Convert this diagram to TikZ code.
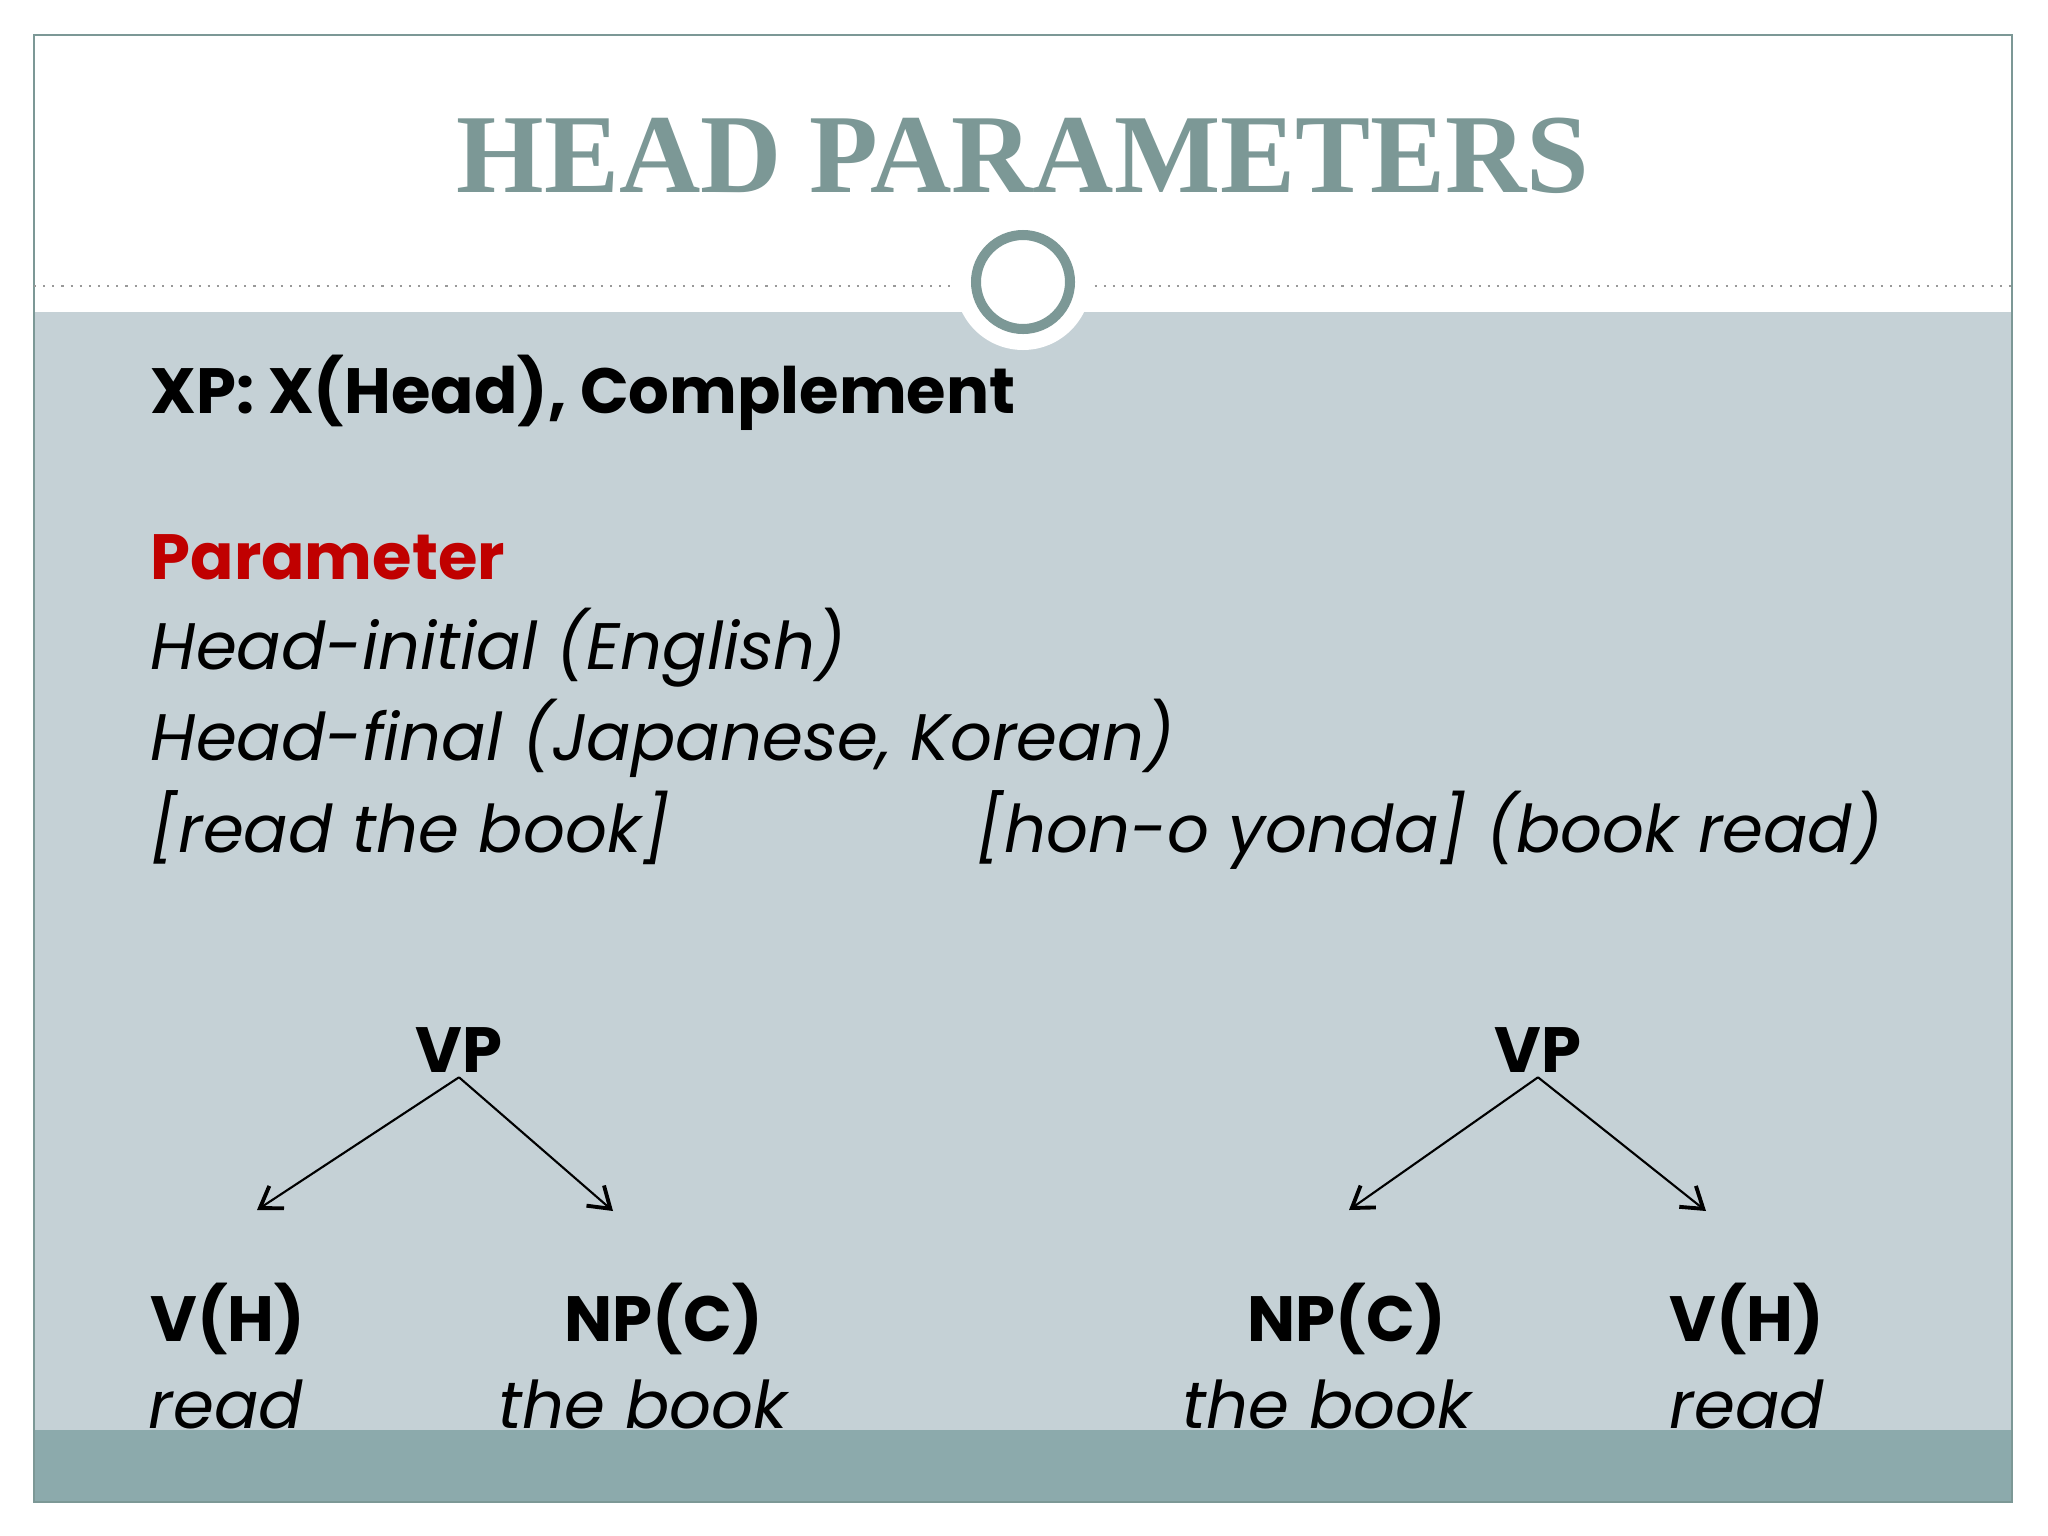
\documentclass[tikz,border=0pt]{standalone}
\usepackage{fontspec}
\setmainfont{Poppins}
\newfontfamily\titlefont{Liberation Serif}
\usetikzlibrary{arrows.meta}
\definecolor{slidegray}{RGB}{197,209,214}
\definecolor{slideteal}{RGB}{124,152,150}
\definecolor{barteal}{RGB}{140,170,172}
\definecolor{paramred}{RGB}{192,0,0}
\begin{document}
\begin{tikzpicture}[x=0.01cm,y=-0.01cm]
\tikzstyle{txt}=[anchor=base west,inner sep=0pt,font=\fontsize{19}{23}\selectfont]
\tikzstyle{boldtxt}=[txt,font=\fontsize{18.2}{22}\selectfont\bfseries]
\tikzstyle{itxt}=[txt,font=\fontsize{18.7}{23}\selectfont\itshape]
\tikzstyle{vp}=[anchor=base,inner sep=0pt,outer sep=1.5pt,font=\fontsize{18.2}{22}\selectfont\bfseries]
\tikzstyle{branch}=[line width=0.6pt,-{Straight Barb[length=5.7pt,width=7.6pt,line width=1.1pt]}]
\useasboundingbox (0,0) rectangle (2048,1536);
\fill[white] (0,0) rectangle (2048,1536);
\fill[slidegray] (34,312) rectangle (2012,1430);
\fill[barteal] (34,1430) rectangle (2012,1502);
\draw[slideteal,line width=0.6pt] (34,35) rectangle (2012,1502);
\draw[gray!80,dotted,line width=0.6pt] (34,286) -- (2012,286);
\fill[white] (1023,282) circle (68);
\draw[slideteal,line width=2.85pt] (1023,282) circle (47);
\node[anchor=base,inner sep=0pt,text=slideteal,font=\titlefont\fontsize{32}{36}\selectfont\bfseries] (title) at (1023,192) {HEAD PARAMETERS};
\node[boldtxt] (xp) at (150,413) {XP: X(Head), Complement};
\node[boldtxt,text=paramred] (param) at (150,579) {Parameter};
\node[itxt] (initial) at (150,669) {Head-initial (English)};
\node[itxt] (final) at (150,760) {Head-final (Japanese, Korean)};
\node[itxt] (engex) at (150,852) {[read the book]};
\node[itxt] (jpex) at (976,852) {[hon-o yonda] (book read)};
\node[vp] (vpL) at (459,1072) {VP};
\node[vp] (vpR) at (1538,1072) {VP};
\coordinate (tipLa) at (257,1210);
\coordinate (tipLb) at (613,1211);
\coordinate (tipRa) at (1349,1210);
\coordinate (tipRb) at (1706,1211);
\draw[branch] (vpL.south) -- (tipLa);
\draw[branch] (vpL.south) -- (tipLb);
\draw[branch] (vpR.south) -- (tipRa);
\draw[branch] (vpR.south) -- (tipRb);
\node[boldtxt] (vhL) at (150,1341) {V(H)};
\node[boldtxt] (npL) at (564,1341) {NP(C)};
\node[boldtxt] (npR) at (1247,1341) {NP(C)};
\node[boldtxt] (vhR) at (1669,1341) {V(H)};
\node[itxt] (readL) at (148,1428) {read};
\node[itxt] (bookL) at (498,1428) {the book};
\node[itxt] (bookR) at (1182,1428) {the book};
\node[itxt] (readR) at (1669,1428) {read};
\end{tikzpicture}
\end{document}
